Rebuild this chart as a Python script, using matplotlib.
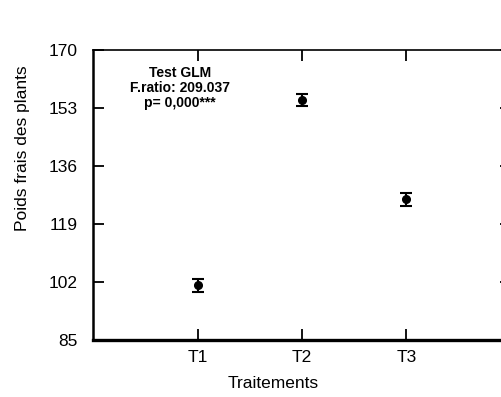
import matplotlib
matplotlib.use("Agg")
import matplotlib.pyplot as plt

categories = ["T1", "T2", "T3"]
means = [101.0, 155.3, 126.2]
errors = [1.8, 1.8, 1.8]
yticks = [85, 102, 119, 136, 153, 170]

plt.rcParams['font.family'] = ['Liberation Sans', 'DejaVu Sans']

fig = plt.figure(figsize=(5.01, 3.97), dpi=100)
W, H = 501, 397
x0, x1, ytop, ybot = 93, 511, 50, 340
ax = fig.add_axes([x0 / W, (H - ybot) / H, (x1 - x0) / W, (ybot - ytop) / H])

xpos = list(range(1, len(categories) + 1))
ax.errorbar(xpos, means, yerr=errors, fmt='o', color='black', ms=5.5,
            capsize=4.5, elinewidth=1.5, capthick=1.5)

ax.set_xlim(0, 4)
ax.set_ylim(85, 170)
ax.set_xticks(xpos)
ax.set_xticklabels(categories)
ax.set_yticks(yticks)
ax.set_yticklabels([str(v) for v in yticks])

ax.tick_params(axis='both', direction='in', length=8, width=1.3, labelsize=12.5,
               top=True, right=True)
ax.tick_params(axis='y', pad=11)
ax.tick_params(axis='x', pad=7)

ax.spines['left'].set_linewidth(1.8)
ax.spines['bottom'].set_linewidth(2.4)
ax.spines['top'].set_linewidth(1.2)
ax.spines['right'].set_linewidth(1.2)

fig.text(23 / W, 1 - 148 / H, "Poids frais des plants", rotation=90,
         ha='center', va='center', fontsize=12.5)
fig.text(273 / W, 1 - 383 / H, "Traitements", ha='center', va='center', fontsize=12.5)

fig.text(180 / W, 1 - 88 / H, "Test GLM\nF.ratio: 209.037\np= 0,000***",
         ha='center', va='center', fontsize=10, fontweight='bold',
         linespacing=1.05)

fig.savefig("out.png", dpi=100)
